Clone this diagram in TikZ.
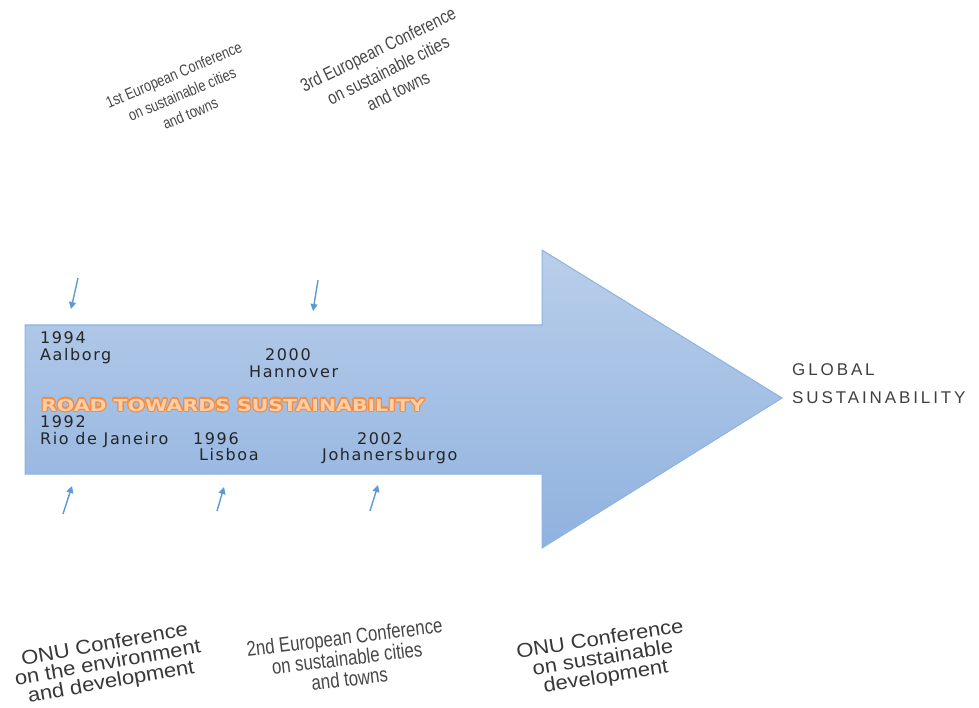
\documentclass[tikz,border=0pt]{standalone}
\usepackage{fontspec}
\setmainfont{Liberation Sans}
\newfontfamily\yearfont[LetterSpace=10]{DejaVu Sans}
\newfontfamily\roadfont[FakeStretch=1.24]{DejaVu Sans}
\newfontfamily\narrowfont[FakeStretch=0.8]{Liberation Sans}
\newfontfamily\onufont[FakeStretch=1.1]{Liberation Sans}
\newfontfamily\globalfont[LetterSpace=17]{Liberation Sans}
\usepackage{contour}
\contourlength{1.1pt}
\usetikzlibrary{positioning}
\usetikzlibrary{arrows.meta}
\pgfdeclarelayer{nodelayer}
\pgfdeclarelayer{edgelayer}
\pgfsetlayers{nodelayer,edgelayer,main}
\definecolor{roadtop}{HTML}{B9CEEA}
\definecolor{roadbottom}{HTML}{90B2DF}
\definecolor{roadline}{HTML}{8DB3E2}
\definecolor{pointblue}{HTML}{5B9BD5}
\definecolor{roadorange}{HTML}{F58B3F}
\definecolor{roadpeach}{HTML}{FCCFA8}

\begin{document}
\begin{tikzpicture}[x=1pt, y=-1pt,
        year/.style={anchor=base west, inner sep=0pt, text=black!85, font=\yearfont\fontsize{16}{17}\selectfont},
        euro/.style={align=center, inner sep=0pt, text=black!72},
        onu/.style={align=center, inner sep=0pt, text=black!78, font=\onufont\fontsize{20}{19}\selectfont},
        pointer/.style={draw=pointblue, line width=1.4pt, -{Triangle[length=7pt, width=7pt]}}]
        \useasboundingbox (0, 0) rectangle (979, 708);
        \begin{pgfonlayer}{nodelayer}
            \draw [draw=roadline, line width=1pt, top color=roadtop, bottom color=roadbottom]
                (25, 325) -- (542, 325) -- (542, 250) -- (782, 398) -- (542, 548) -- (542, 474) -- (25, 474) -- cycle;
            \node [year] (0) at (40, 343) {1994};
            \node [year] (1) at (40, 360) {Aalborg};
            \node [year] (2) at (265, 360) {2000};
            \node [year] (3) at (249, 377) {Hannover};
            \node [anchor=base west, inner sep=0pt, font=\roadfont\bfseries\fontsize{16.5}{18}\selectfont] (4) at (41, 411)
                {\contour{roadorange}{\textcolor{roadpeach}{ROAD TOWARDS SUSTAINABILITY}}};
            \node [year] (5) at (40, 427) {1992};
            \node [year] (6) at (40, 444) {Rio de Janeiro};
            \node [year] (7) at (193, 444) {1996};
            \node [year] (8) at (199, 460) {Lisboa};
            \node [year] (9) at (357, 444) {2002};
            \node [year] (10) at (322, 460) {Johanersburgo};
            \node [euro, rotate=23, font=\narrowfont\fontsize{16}{21}\selectfont] (11) at (182, 94)
                {1st European Conference\\on sustainable cities\\and towns};
            \node [euro, rotate=26, font=\narrowfont\fontsize{18.5}{23}\selectfont] (12) at (388, 70)
                {3rd European Conference\\on sustainable cities\\and towns};
            \node [euro, rotate=7, font=\narrowfont\fontsize{21}{21}\selectfont] (13) at (347, 658)
                {2nd European Conference\\on sustainable cities\\and towns};
            \node [onu, rotate=10] (14) at (108, 664) {ONU Conference\\on the environment\\and development};
            \node [onu, rotate=9] (15) at (603, 659) {ONU Conference\\on sustainable\\development};
            \node [anchor=base west, inner sep=0pt, align=left, text=black!75,
                font=\globalfont\fontsize{17}{28}\selectfont] (16) at (792, 403) {GLOBAL\\SUSTAINABILITY};
            \coordinate (20) at (78, 278);
            \coordinate (21) at (71, 309);
            \coordinate (22) at (318, 280);
            \coordinate (23) at (313, 311);
            \coordinate (24) at (63, 514);
            \coordinate (25) at (72, 486);
            \coordinate (26) at (217, 511);
            \coordinate (27) at (224, 487);
            \coordinate (28) at (370, 511);
            \coordinate (29) at (378, 485);
        \end{pgfonlayer}
        \begin{pgfonlayer}{edgelayer}
            \draw [pointer] (20) to (21);
            \draw [pointer] (22) to (23);
            \draw [pointer] (24) to (25);
            \draw [pointer] (26) to (27);
            \draw [pointer] (28) to (29);
        \end{pgfonlayer}
    \end{tikzpicture}
\end{document}
